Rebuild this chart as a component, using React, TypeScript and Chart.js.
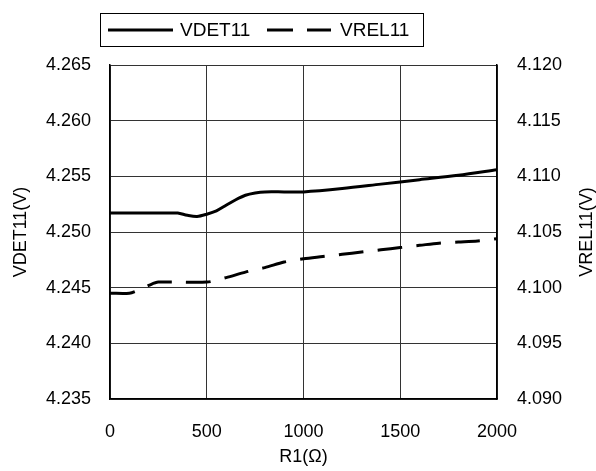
import { useEffect, useRef } from 'react';
import { Chart, registerables } from 'chart.js';

Chart.register(...registerables);

const r1Det = [0, 100, 200, 300, 350, 400, 450, 500, 550, 600, 650, 700, 750, 800, 900, 1000, 1200, 1400, 1600, 1800, 2000];
const vdet11 = [4.2517, 4.2517, 4.2517, 4.2517, 4.2517, 4.2515, 4.2514, 4.2516, 4.2519, 4.2524, 4.2529, 4.2533, 4.2535, 4.2536, 4.2536, 4.2536, 4.2539, 4.2543, 4.2547, 4.2551, 4.2556];

const r1Rel = [0, 100, 150, 200, 250, 500, 600, 700, 800, 900, 1000, 1100, 1200, 1300, 1400, 1500, 1600, 1700, 1800, 1900, 2000];
const vrel11 = [4.0995, 4.0995, 4.0998, 4.1002, 4.1005, 4.1005, 4.1009, 4.1014, 4.1018, 4.1023, 4.1026, 4.1028, 4.1030, 4.1032, 4.1034, 4.1036, 4.1038, 4.1040, 4.1041, 4.1042, 4.1044];

const xRange = [0, 2000];
const leftRange = [4.235, 4.265];
const rightRange = [4.09, 4.12];

const seriesNames = ['VDET11', 'VREL11'];
const xTitle = 'R1(Ω)';
const leftTitle = 'VDET11(V)';
const rightTitle = 'VREL11(V)';

const FONT = "'Liberation Sans', Arial, sans-serif";

const extrasPlugin = {
  id: 'extras',
  afterDraw(chart: any) {
    const ctx = chart.ctx;
    const area = chart.chartArea;
    ctx.save();
    ctx.font = `18px ${FONT}`;
    ctx.fillStyle = '#000';
    ctx.textAlign = 'center';
    ctx.textBaseline = 'middle';
    ctx.translate(587, (area.top + area.bottom) / 2);
    ctx.rotate(-Math.PI / 2);
    ctx.fillText(rightTitle, 0, 0);
    ctx.restore();

    ctx.save();
    const bx = 100, by = 13, bw = 323, bh = 33;
    ctx.strokeStyle = '#000';
    ctx.lineWidth = 1;
    ctx.strokeRect(bx + 0.5, by + 0.5, bw, bh);
    const cy = by + bh / 2 + 0.5;
    ctx.lineWidth = 3;
    ctx.lineCap = 'butt';
    ctx.beginPath();
    ctx.setLineDash([]);
    ctx.moveTo(108, cy);
    ctx.lineTo(173, cy);
    ctx.stroke();
    ctx.beginPath();
    ctx.setLineDash([26, 14]);
    ctx.moveTo(267, cy);
    ctx.lineTo(331, cy);
    ctx.stroke();
    ctx.setLineDash([]);
    ctx.font = `19px ${FONT}`;
    ctx.fillStyle = '#000';
    ctx.textAlign = 'left';
    ctx.textBaseline = 'middle';
    ctx.fillText(seriesNames[0], 180, cy + 1);
    ctx.fillText(seriesNames[1], 340, cy + 1);
    ctx.restore();
  },
};

export default function App() {
  const ref = useRef<HTMLCanvasElement | null>(null);

  useEffect(() => {
    document.body.style.margin = '0';
    const canvas = ref.current;
    if (!canvas) return;
    const chart = new Chart(canvas, {
      type: 'line',
      data: {
        datasets: [
          {
            label: seriesNames[0],
            data: r1Det.map((x, i) => ({ x, y: vdet11[i] })),
            borderColor: '#000',
            borderWidth: 3,
            pointRadius: 0,
            tension: 0.3,
            yAxisID: 'y',
            fill: false,
          },
          {
            label: seriesNames[1],
            data: r1Rel.map((x, i) => ({ x, y: vrel11[i] })),
            borderColor: '#000',
            borderWidth: 3,
            borderDash: [25, 14],
            pointRadius: 0,
            tension: 0.3,
            yAxisID: 'y1',
            fill: false,
          },
        ],
      },
      options: {
        animation: false,
        responsive: false,
        maintainAspectRatio: false,
        layout: { padding: { top: 65, left: 0, right: 0, bottom: 0 } },
        plugins: {
          legend: { display: false },
          tooltip: { enabled: false },
        },
        scales: {
          x: {
            type: 'linear',
            min: xRange[0],
            max: xRange[1],
            ticks: {
              stepSize: 500,
              color: '#000',
              font: { family: FONT, size: 18 },
              padding: 22,
              maxRotation: 0,
              callback: (v: any) => String(v),
            },
            grid: { color: '#333', lineWidth: 1, drawTicks: false },
            border: { color: '#000', width: 1.5 },
            title: {
              display: true,
              text: xTitle,
              color: '#000',
              font: { family: FONT, size: 18 },
              padding: { top: 0, bottom: 3 },
            },
            afterFit(scale: any) {
              scale.height = 72;
            },
          },
          y: {
            type: 'linear',
            position: 'left',
            min: leftRange[0],
            max: leftRange[1],
            ticks: {
              stepSize: 0.005,
              color: '#000',
              font: { family: FONT, size: 18 },
              padding: 19,
              callback: (v: any) => Number(v).toFixed(3),
            },
            grid: { color: '#333', lineWidth: 1, drawTicks: false },
            border: { color: '#000', width: 1.5 },
            title: {
              display: true,
              text: leftTitle,
              color: '#000',
              font: { family: FONT, size: 18 },
              padding: { top: 10, bottom: 0 },
            },
            afterFit(scale: any) {
              scale.width = 110;
            },
          },
          y1: {
            type: 'linear',
            position: 'right',
            min: rightRange[0],
            max: rightRange[1],
            ticks: {
              stepSize: 0.005,
              color: '#000',
              font: { family: FONT, size: 18 },
              padding: 20,
              callback: (v: any) => Number(v).toFixed(3),
            },
            grid: { display: false, drawTicks: false },
            border: { color: '#000', width: 1.5 },
            afterFit(scale: any) {
              scale.width = 99;
            },
          },
        },
      },
      plugins: [extrasPlugin],
    });
    return () => chart.destroy();
  }, []);

  return (
    <div style={{ width: 596, height: 471 }}>
      <canvas ref={ref} width={596} height={471} style={{ display: 'block' }} />
    </div>
  );
}
